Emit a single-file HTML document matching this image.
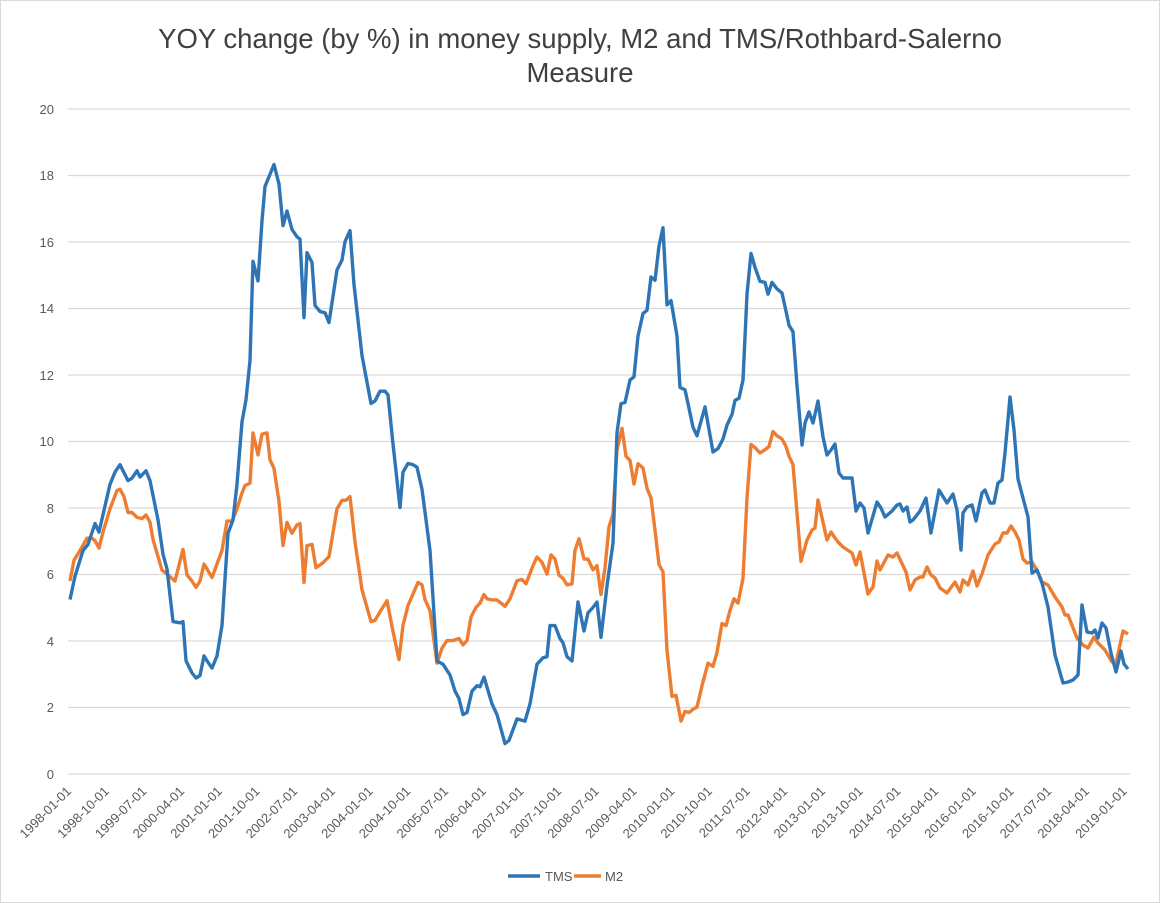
<!DOCTYPE html>
<html><head><meta charset="utf-8"><style>
html,body{margin:0;padding:0;background:#fff;}
svg{display:block;font-family:"Liberation Sans",sans-serif;}
</style></head><body>
<svg width="1160" height="903" viewBox="0 0 1160 903" xmlns="http://www.w3.org/2000/svg">
<rect x="0.5" y="0.5" width="1159" height="902" fill="#fff" stroke="#d9d9d9"/>
<text x="580" y="48" text-anchor="middle" font-size="27.5" fill="#404040">YOY change (by %) in money supply, M2 and TMS/Rothbard-Salerno</text>
<text x="580" y="82" text-anchor="middle" font-size="27.5" fill="#404040">Measure</text>
<g stroke="#d9d9d9" stroke-width="1.3">
<line x1="68" x2="1130" y1="774" y2="774"/><line x1="68" x2="1130" y1="707.5" y2="707.5"/>
<line x1="68" x2="1130" y1="641" y2="641"/><line x1="68" x2="1130" y1="574.5" y2="574.5"/>
<line x1="68" x2="1130" y1="508" y2="508"/><line x1="68" x2="1130" y1="441.5" y2="441.5"/>
<line x1="68" x2="1130" y1="375" y2="375"/><line x1="68" x2="1130" y1="308.5" y2="308.5"/>
<line x1="68" x2="1130" y1="242" y2="242"/><line x1="68" x2="1130" y1="175.5" y2="175.5"/>
<line x1="68" x2="1130" y1="109" y2="109"/>
</g>
<g font-size="13" fill="#595959" text-anchor="end">
<text x="54" y="779">0</text><text x="54" y="712">2</text><text x="54" y="646">4</text>
<text x="54" y="579">6</text><text x="54" y="513">8</text><text x="54" y="446">10</text>
<text x="54" y="380">12</text><text x="54" y="313">14</text><text x="54" y="247">16</text>
<text x="54" y="180">18</text><text x="54" y="114">20</text>
</g>
<g font-size="13" fill="#595959" text-anchor="end">
<text transform="translate(72,792) rotate(-45)">1998-01-01</text>
<text transform="translate(109.7,792) rotate(-45)">1998-10-01</text>
<text transform="translate(147.4,792) rotate(-45)">1999-07-01</text>
<text transform="translate(185.1,792) rotate(-45)">2000-04-01</text>
<text transform="translate(222.8,792) rotate(-45)">2001-01-01</text>
<text transform="translate(260.5,792) rotate(-45)">2001-10-01</text>
<text transform="translate(298.2,792) rotate(-45)">2002-07-01</text>
<text transform="translate(335.9,792) rotate(-45)">2003-04-01</text>
<text transform="translate(373.6,792) rotate(-45)">2004-01-01</text>
<text transform="translate(411.3,792) rotate(-45)">2004-10-01</text>
<text transform="translate(449,792) rotate(-45)">2005-07-01</text>
<text transform="translate(486.7,792) rotate(-45)">2006-04-01</text>
<text transform="translate(524.4,792) rotate(-45)">2007-01-01</text>
<text transform="translate(562.1,792) rotate(-45)">2007-10-01</text>
<text transform="translate(599.8,792) rotate(-45)">2008-07-01</text>
<text transform="translate(637.5,792) rotate(-45)">2009-04-01</text>
<text transform="translate(675.2,792) rotate(-45)">2010-01-01</text>
<text transform="translate(712.9,792) rotate(-45)">2010-10-01</text>
<text transform="translate(750.6,792) rotate(-45)">2011-07-01</text>
<text transform="translate(788.3,792) rotate(-45)">2012-04-01</text>
<text transform="translate(826,792) rotate(-45)">2013-01-01</text>
<text transform="translate(863.7,792) rotate(-45)">2013-10-01</text>
<text transform="translate(901.4,792) rotate(-45)">2014-07-01</text>
<text transform="translate(939.1,792) rotate(-45)">2015-04-01</text>
<text transform="translate(976.8,792) rotate(-45)">2016-01-01</text>
<text transform="translate(1014.5,792) rotate(-45)">2016-10-01</text>
<text transform="translate(1052.2,792) rotate(-45)">2017-07-01</text>
<text transform="translate(1089.9,792) rotate(-45)">2018-04-01</text>
<text transform="translate(1127.6,792) rotate(-45)">2019-01-01</text>
</g>
<polyline id="m2" fill="none" stroke="#ed7d31" stroke-width="3.4" stroke-linejoin="round" points=""/>
<polyline id="tms" fill="none" stroke="#2e75b6" stroke-width="3.4" stroke-linejoin="round" points=""/>
<line x1="508" x2="540" y1="876" y2="876" stroke="#2e75b6" stroke-width="3.4"/>
<text x="545" y="881" font-size="13" fill="#595959">TMS</text>
<line x1="574" x2="601" y1="876" y2="876" stroke="#ed7d31" stroke-width="3.4"/>
<text x="605" y="881" font-size="13" fill="#595959">M2</text>
</svg>
<script>
function f3(y){return 175.5+(3*(y-150)-63)/2.448;}
function f4(y){return 242+(3*(y-200)-118)/2.797;}
function f5(y){return y;}
function build(segs){
  var out=[];
  segs.forEach(function(s){
    var a=s[0].trim().split(/\s+/);
    a.forEach(function(p){var c=p.split(',');var x=+c[0],y=+c[1];
      if(x<s[2]||x>s[3])return; out.push(x+','+s[1](y).toFixed(1));});
  });
  return out.join(' ');
}
var T3="70,517 75,498 83,477 88,472 95,455 99,462 110,423 115,413 120,407 128,420 132,418 137,412 140,417 146,412 150,420 158,452 163,480 167,492 173,535 180,536 183,535 186,567 192,577 196,581 200,579 204,563 207,567 212,573 217,563 222,538 225,500 228,463 233,452 237,423 242,372 246,354 250,322 253,241 258,257 262,208 265,180 274,162 279,178 283,212 287,200 292,215 297,221 300,223 304,287 307,234 312,242 315,277 320,282 325,283 329,291 337,248 342,240 345,225 350,216 354,260 362,318 371,357 375,355 380,347 385,347 388,350 393,390 400,442 403,413 408,406 413,407 417,409 422,427";
var T4="430,527 437,630 443,633 450,643 455,658 459,665 463,680 467,678 472,658 477,653 480,654 484,645 492,670 497,680 505,707 509,704 517,684 525,686 530,670 537,633 543,627 547,626 550,597 555,597 560,609 563,613 567,626 572,630 578,575 584,602 588,585 593,580 597,575 601,608 607,560 613,520 617,417 621,390 625,389 630,368 634,365 638,327 643,306 647,303 651,272 655,275 659,243 663,226 667,298 671,294 677,327 680,375 685,377 688,390 693,412 697,420 705,393 713,435 718,432 723,423 727,410 732,400 735,387 739,385 743,368 747,288 751,250 755,263 760,276 765,277 768,288 772,277 777,283 782,287 787,308 789,317 793,323 797,373";
var T5="802,445 805,423 809,412 813,423 818,401 823,437 827,455 831,450 835,444 839,473 843,478 852,478 856,511 860,503 864,508 868,533 877,502 881,508 885,517 892,511 897,505 900,504 903,511 907,507 910,522 913,520 920,511 926,498 931,533 939,490 947,503 953,494 957,510 961,550 963,513 967,507 972,505 976,521 982,493 985,490 990,503 994,503 998,483 1002,480 1005,453 1010,397 1014,430 1018,479 1023,498 1028,517 1032,573 1037,570 1042,583 1048,607 1055,655 1063,683 1068,682 1073,680 1078,675 1082,605 1087,632 1092,633 1095,630 1098,638 1102,623 1106,628 1111,653 1116,672 1121,651 1124,664 1128,669";
var M3="70,502 74,485 80,477 87,467 92,467 95,469 99,475 103,462 110,443 117,428 120,427 124,433 128,446 132,446 137,450 142,451 146,448 150,454 153,468 162,493 168,497 175,502 183,476 187,497 192,502 196,507 200,502 204,488 212,499 217,488 222,477 227,453 232,453 237,443 242,430 245,424 250,422 253,381 258,399 262,382 267,381 270,403 274,410 279,437 283,473 287,454 292,463 297,456 300,455 304,503 307,473 312,472 316,491 323,487 329,482 337,443 342,436 346,436 350,433 355,470 362,509 371,535 375,534 380,527 387,518 393,543 399,566 403,538 408,522 418,503 422,505 425,517";
var M4="430,583 437,632 442,618 447,611 453,611 459,609 463,615 467,611 471,589 476,580 480,576 484,568 487,572 492,573 497,573 505,579 510,572 517,555 522,554 526,558 533,541 537,533 542,538 547,549 551,531 555,535 559,550 563,553 567,559 572,558 575,527 579,516 584,535 588,535 593,545 597,541 601,568 605,543 609,505 613,493 617,433 622,413 626,439 630,443 634,465 638,446 643,450 647,469 651,478 655,508 659,540 663,547 667,620 672,663 676,662 681,686 685,677 689,678 693,675 697,673 702,653 708,632 713,635 717,622 722,595 726,597 730,583 734,572 738,576 743,553 747,478 751,428 755,431 760,436 765,433 769,430 773,416 777,420 782,423 786,430 789,439 793,447 801,537";
var M5="807,540 812,530 815,528 818,500 827,540 831,532 835,538 838,542 843,547 852,553 856,565 860,552 868,594 873,587 877,561 880,570 888,555 893,557 897,553 906,572 910,590 915,580 920,577 923,577 927,567 931,575 935,578 940,588 947,593 955,582 960,592 963,580 968,585 973,571 977,586 982,574 988,555 995,544 999,542 1003,533 1007,533 1011,526 1015,532 1019,540 1023,559 1027,563 1032,562 1037,570 1042,582 1048,585 1055,597 1062,607 1065,615 1068,615 1077,638 1083,645 1088,648 1094,637 1098,643 1105,650 1112,662 1116,663 1123,631 1128,634";
document.getElementById('tms').setAttribute('points',build([[T3,f3,0,429],[T4,f4,430,800],[T5,f5,801,2000]]));
document.getElementById('m2').setAttribute('points',build([[M3,f3,0,429],[M4,f4,430,802],[M5,f5,803,2000]]));
</script>
</body></html>
